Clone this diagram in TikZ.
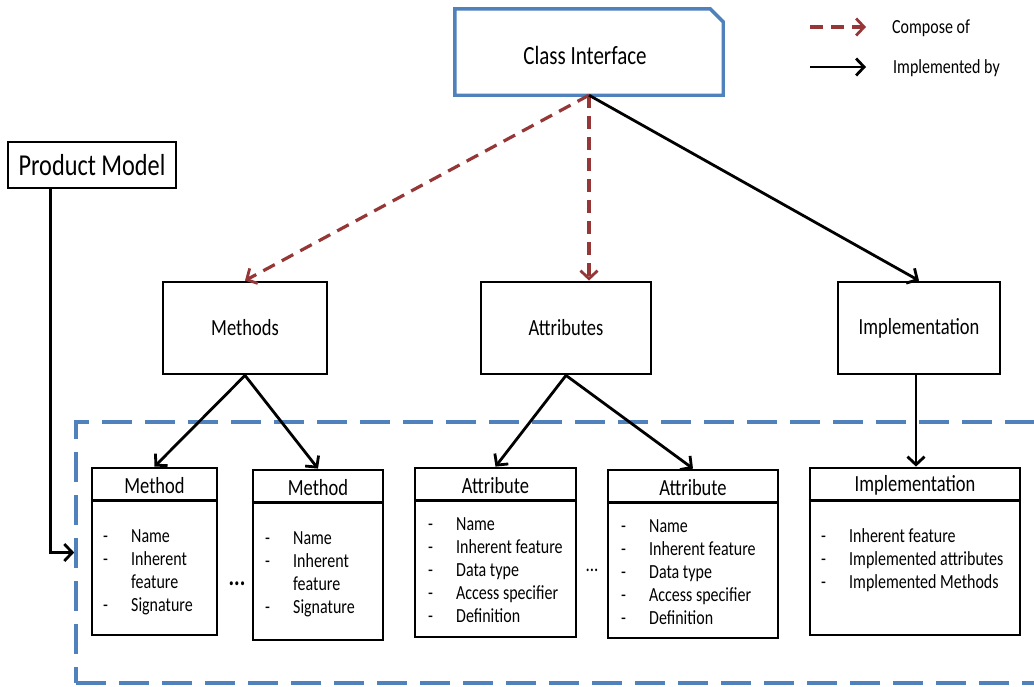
\documentclass[tikz,border=0pt]{standalone}
\usepackage{fontspec}
\setmainfont{Carlito}
\usepackage{graphicx}
\usetikzlibrary{arrows.meta,calc}
\definecolor{ciblue}{RGB}{79,129,189}
\definecolor{compred}{RGB}{150,55,55}
% text is set slightly taller than wide
\newcommand\vst[1]{\scalebox{1}[1.25]{#1}}
\newcommand\itemlist[1]{\vst{\begin{tabular}{@{}p{28pt}@{}l@{}}#1\end{tabular}}}
\begin{document}
\begin{tikzpicture}[x=1pt,y=-1pt,
  box/.style={draw, line width=2.8pt, rectangle, inner sep=0pt},
  boxtext/.style={font=\fontsize{18.5}{21}\selectfont},
  listtext/.style={inner sep=0pt, anchor=north west, font=\fontsize{16}{18.4}\selectfont},
  compose/.style={draw=compred, line width=3.2pt, dash pattern=on 13pt off 8pt,
    -{Straight Barb[length=8pt,width=17pt,line width=2.8pt]}},
  implby/.style={draw=black, line width=2.8pt,
    -{Straight Barb[length=8pt,width=17pt,line width=2.8pt]}},
  divider/.style={line width=2.8pt},
  dots/.style={font=\fontsize{21}{22}\selectfont\bfseries}]
\useasboundingbox[fill=white] (0,0) rectangle (1034,686);
\clip (0,0) rectangle (1034,686);

% dashed group of the detailed boxes
\node[draw=ciblue, line width=3.6pt, dash pattern=on 30pt off 13pt,
  minimum width=994pt, minimum height=261pt, inner sep=0pt] (cont) at (573,552.5) {};

% class interface with a cut corner
\node[inner sep=0pt, minimum width=268pt, minimum height=86pt] (ci) at (589,52) {};
\node[font=\fontsize{21}{24}\selectfont] (cit) at ([xshift=-4pt,yshift=-3pt]ci.center) {\vst{Class Interface}};
\draw[ciblue, line width=3.4pt, line join=miter]
  (ci.north west) -- ([xshift=-13pt]ci.north east) -- ([yshift=-13pt]ci.north east)
  -- (ci.south east) -- (ci.south west) -- cycle;

% legend
\coordinate (lgA) at (810,27);
\node[anchor=west, inner sep=0pt, font=\fontsize{16}{18}\selectfont] (lgAt) at (892,28) {\vst{Compose of}};
\draw[compose] (lgA) -- ([xshift=-26pt,yshift=1pt]lgAt.west);
\coordinate (lgB) at (810,67);
\node[anchor=west, inner sep=0pt, font=\fontsize{16}{18}\selectfont] (lgBt) at (893,68) {\vst{Implemented by}};
\draw[implby] (lgB) -- ([xshift=-27pt,yshift=1pt]lgBt.west);

% product model
\node[draw, line width=1.4pt, minimum width=168pt, minimum height=46pt, inner sep=0pt,
  font=\fontsize{24.3}{27}\selectfont] (pm) at (92,165) {\vst{Product Model}};

% second level
\node[box, boxtext, minimum width=164pt, minimum height=92pt] (methods) at (245,328) {\vst{Methods}};
\node[box, boxtext, minimum width=170pt, minimum height=92pt] (attrs) at (566,328) {\vst{Attributes}};
\node[box, boxtext, minimum width=162pt, minimum height=92pt] (impl) at (919,328) {\vst{Implementation}};

% detailed boxes
\node[box, minimum width=125pt, minimum height=167pt] (m1) at (154.5,551.5) {};
\node[box, minimum width=130pt, minimum height=170pt] (m2) at (318,555) {};
\node[box, minimum width=161pt, minimum height=169pt] (a1) at (495.5,552.5) {};
\node[box, minimum width=170pt, minimum height=168pt] (a2) at (693,554) {};
\node[box, minimum width=210pt, minimum height=167pt] (ib) at (915,551.5) {};

\foreach \b in {m1,m2,a1,a2,ib}
  \draw[divider] ([yshift=-34pt]\b.north west) -- ([yshift=-34pt]\b.north east);

\node[boxtext] (m1h) at ([yshift=-19pt]m1.north) {\vst{Method}};
\node[boxtext] (m2h) at ([yshift=-19pt]m2.north) {\vst{Method}};
\node[boxtext] (a1h) at ([yshift=-19pt]a1.north) {\vst{Attribute}};
\node[boxtext] (a2h) at ([yshift=-19pt]a2.north) {\vst{Attribute}};
\node[boxtext] (ibh) at ([yshift=-19pt]ib.north) {\vst{Implementation}};

\node[listtext] (m1l) at (103,526) {\itemlist{-&Name\\-&Inherent\\&feature\\-&Signature}};
\node[listtext] (m2l) at (265,528) {\itemlist{-&Name\\-&Inherent\\&feature\\-&Signature}};
\node[listtext] (a1l) at (428,514) {\itemlist{-&Name\\-&Inherent feature\\-&Data type\\-&Access specifier\\-&Definition}};
\node[listtext] (a2l) at (621,516) {\itemlist{-&Name\\-&Inherent feature\\-&Data type\\-&Access specifier\\-&Definition}};
\node[listtext] (ibl) at (821,526) {\itemlist{-&Inherent feature\\-&Implemented attributes\\-&Implemented Methods}};

\node[dots] (d1) at (237,584) {\vst{...}};
\node[dots, font=\fontsize{17}{18}\selectfont] (d2) at (592,570) {\vst{...}};

% connectors
\draw[compose] (ci.south) -- (methods.north);
\draw[compose] (ci.south) -- (ci.south |- attrs.north);
\draw[implby] (ci.south) -- (impl.north);
\draw[implby] (methods.south) -- (m1.north);
\draw[implby] (methods.south) -- (m2.north);
\draw[implby] (attrs.south) -- (a1.north);
\draw[implby] (attrs.south) -- (a2.north);
\draw[implby] ([xshift=-3pt]impl.south) -- ([xshift=-3pt]impl.south |- ib.north);
\draw[implby] ($(pm.south west)+(43,0)$) |- (cont.west);
\end{tikzpicture}
\end{document}
